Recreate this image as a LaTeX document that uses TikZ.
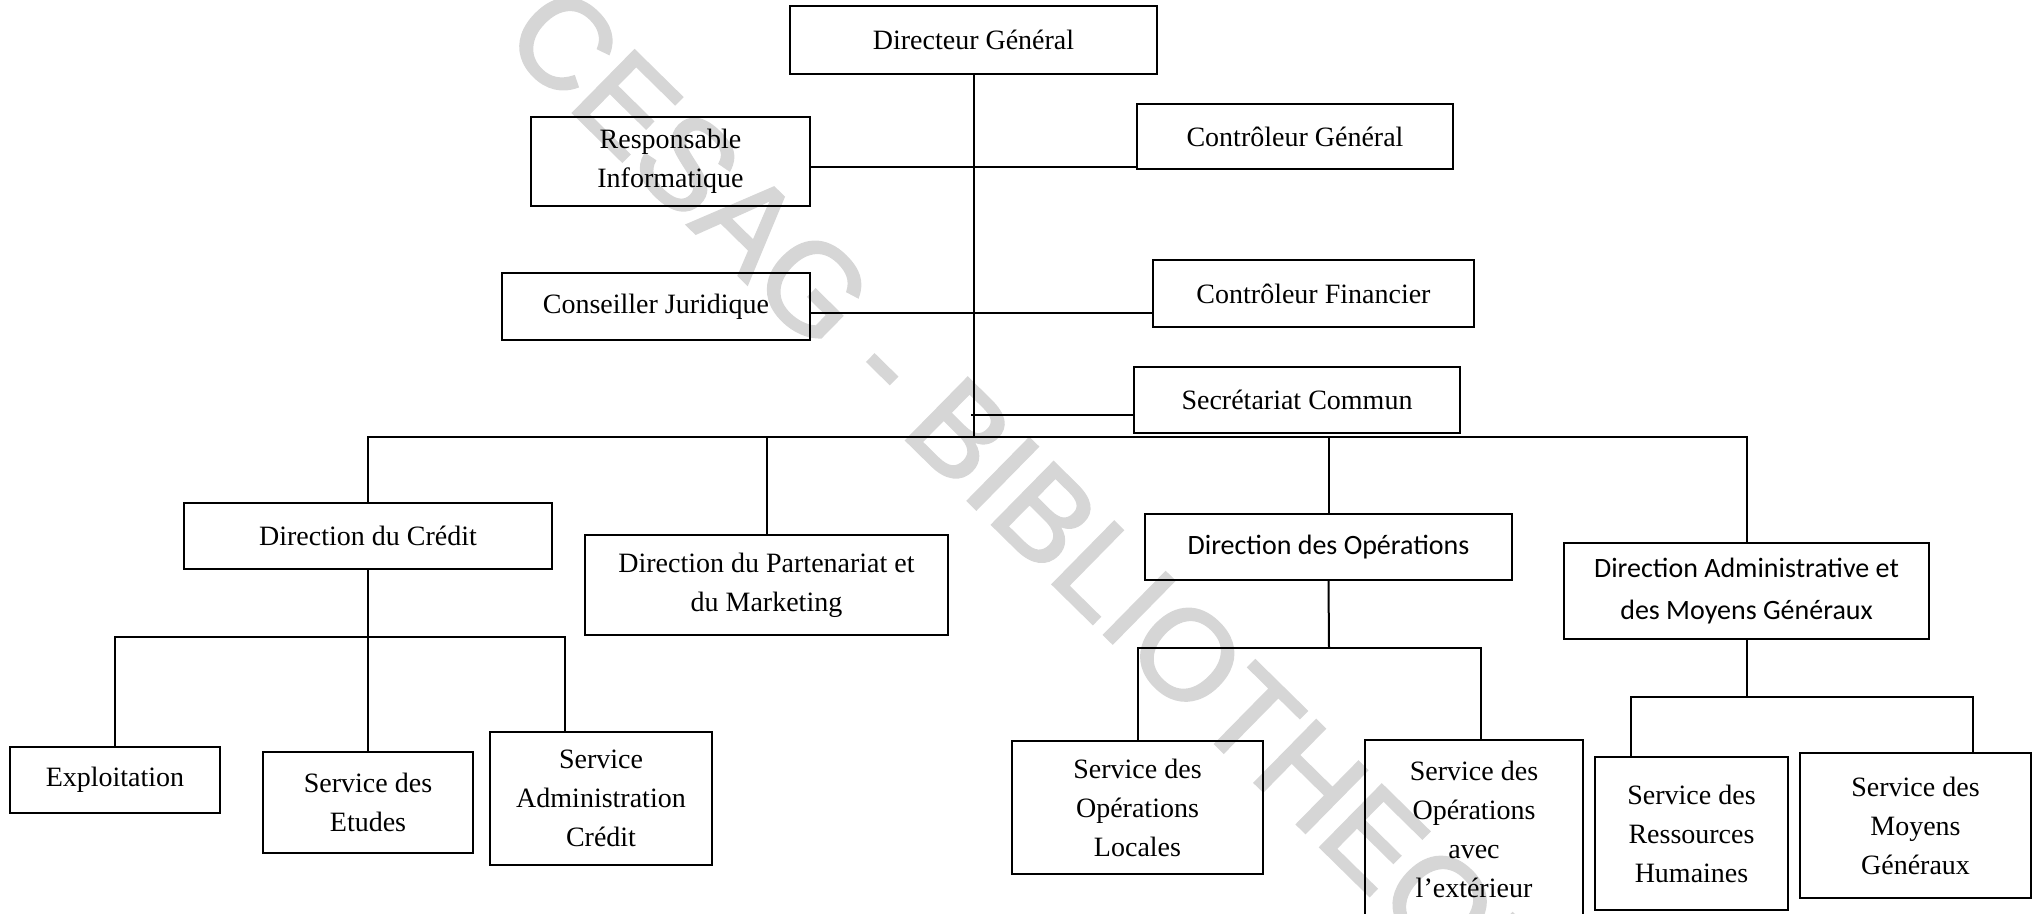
\documentclass[tikz,border=0pt]{standalone}
\usepackage{fontspec}
\setmainfont{Liberation Serif}
\newfontfamily\carl{Carlito}
\newfontfamily\wmfont{Liberation Sans}
\usetikzlibrary{calc}
\tikzset{
  box/.style={draw, line width=1pt, inner sep=0pt, align=center, font=\fontsize{14}{19.5}\selectfont},
  sbox/.style={box, font=\carl\fontsize{14}{21}\selectfont},
  sz/.style 2 args={minimum width=#1*0.5pt, minimum height=#2*0.5pt},
  conn/.style={line width=1pt}
}
\begin{document}
\begin{tikzpicture}[x=0.5pt,y=-0.5pt]
\useasboundingbox (0,0) rectangle (2036,914);
% watermark
\node[text=black!16, rotate=-44.5, font=\wmfont\fontsize{63.7}{64}\selectfont, inner sep=0pt] (wm) at (1058,544)
  {\special{pdf:literal direct 2 Tr 1.2 w}CESAG - BIBLIOTHEQUE\special{pdf:literal direct 0 Tr}};
% top level
\node[box, sz={367}{68}] (DG) at (973.5,40) {Directeur Général};
\node[box, sz={279}{89}] (RI) at (670.5,161.5) {Responsable\\Informatique};
\node[box, sz={316}{65}] (CG) at (1295,136.5) {Contrôleur Général};
\node[box, sz={308}{67}] (CJ) at (656,306.5) {Conseiller Juridique};
\node[box, sz={321}{67}] (CF) at (1313.5,293.5) {Contrôleur Financier};
\node[box, sz={326}{66}] (SC) at (1297,400) {Secrétariat Commun};
% directions
\node[box, sz={368}{66}] (DC) at (368,536) {Direction du Crédit};
\node[box, sz={363}{100}] (DP) at (766.5,585) {Direction du Partenariat et\\du Marketing};
\node[sbox, sz={367}{66}] (DO) at (1328.5,547) {Direction des Opérations};
\node[sbox, sz={365}{96}] (DA) at (1746.5,591) {Direction Administrative et\\des Moyens Généraux};
% services
\node[box, sz={210}{66}] (EX) at (115,780) {Exploitation};
\node[box, sz={210}{101}] (SE) at (368,802.5) {Service des\\Etudes};
\node[box, sz={222}{133}] (SA) at (601,798.5) {Service\\Administration\\Crédit};
\node[box, sz={251}{133}] (SOL) at (1137.5,807.5) {Service des\\Opérations\\Locales};
\node[box, sz={218}{178}] (SOE) at (1474,829) {Service des\\Opérations\\avec\\l’extérieur};
\node[box, sz={193}{153}] (RH) at (1691.5,833.5) {Service des\\Ressources\\Humaines};
\node[box, sz={231}{145}] (MG) at (1915.5,825.5) {Service des\\Moyens\\Généraux};
% coordinates
\coordinate (h1) at (971,167);
\coordinate (h2) at (971,313);
\coordinate (h3) at (971,415);
\coordinate (bus) at (971,437);
\coordinate (cb) at (368,637);
\coordinate (ob) at (1329,648);
\coordinate (ab) at (1746.5,697);
% connectors
\draw[conn] (DG.south) -- (DG.south |- bus);
\draw[conn] (RI.east |- h1) -- (CG.west |- h1);
\draw[conn] (CJ.east |- h2) -- (CF.west |- h2);
\draw[conn] (h3) -- (SC.west |- h3);
\draw[conn] (DC.north) |- (bus) -| (DA.north);
\draw[conn] (DP.north) -- (DP.north |- bus);
\draw[conn] (DO.north) -- (DO.north |- bus);
\draw[conn] (DC.south) -- (SE.north);
\draw[conn] (EX.north) |- (cb) -| ($(SA.north west)+(76,0)$);
\draw[conn] (DO.south) -- (ob);
\draw[conn] (SOL.north) |- (ob) -| ($(SOE.north west)+(117,0)$);
\draw[conn] (DA.south) -- (ab);
\draw[conn] ($(RH.north west)+(37,0)$) |- (ab) -| ($(MG.north west)+(174,0)$);
\end{tikzpicture}
\end{document}
